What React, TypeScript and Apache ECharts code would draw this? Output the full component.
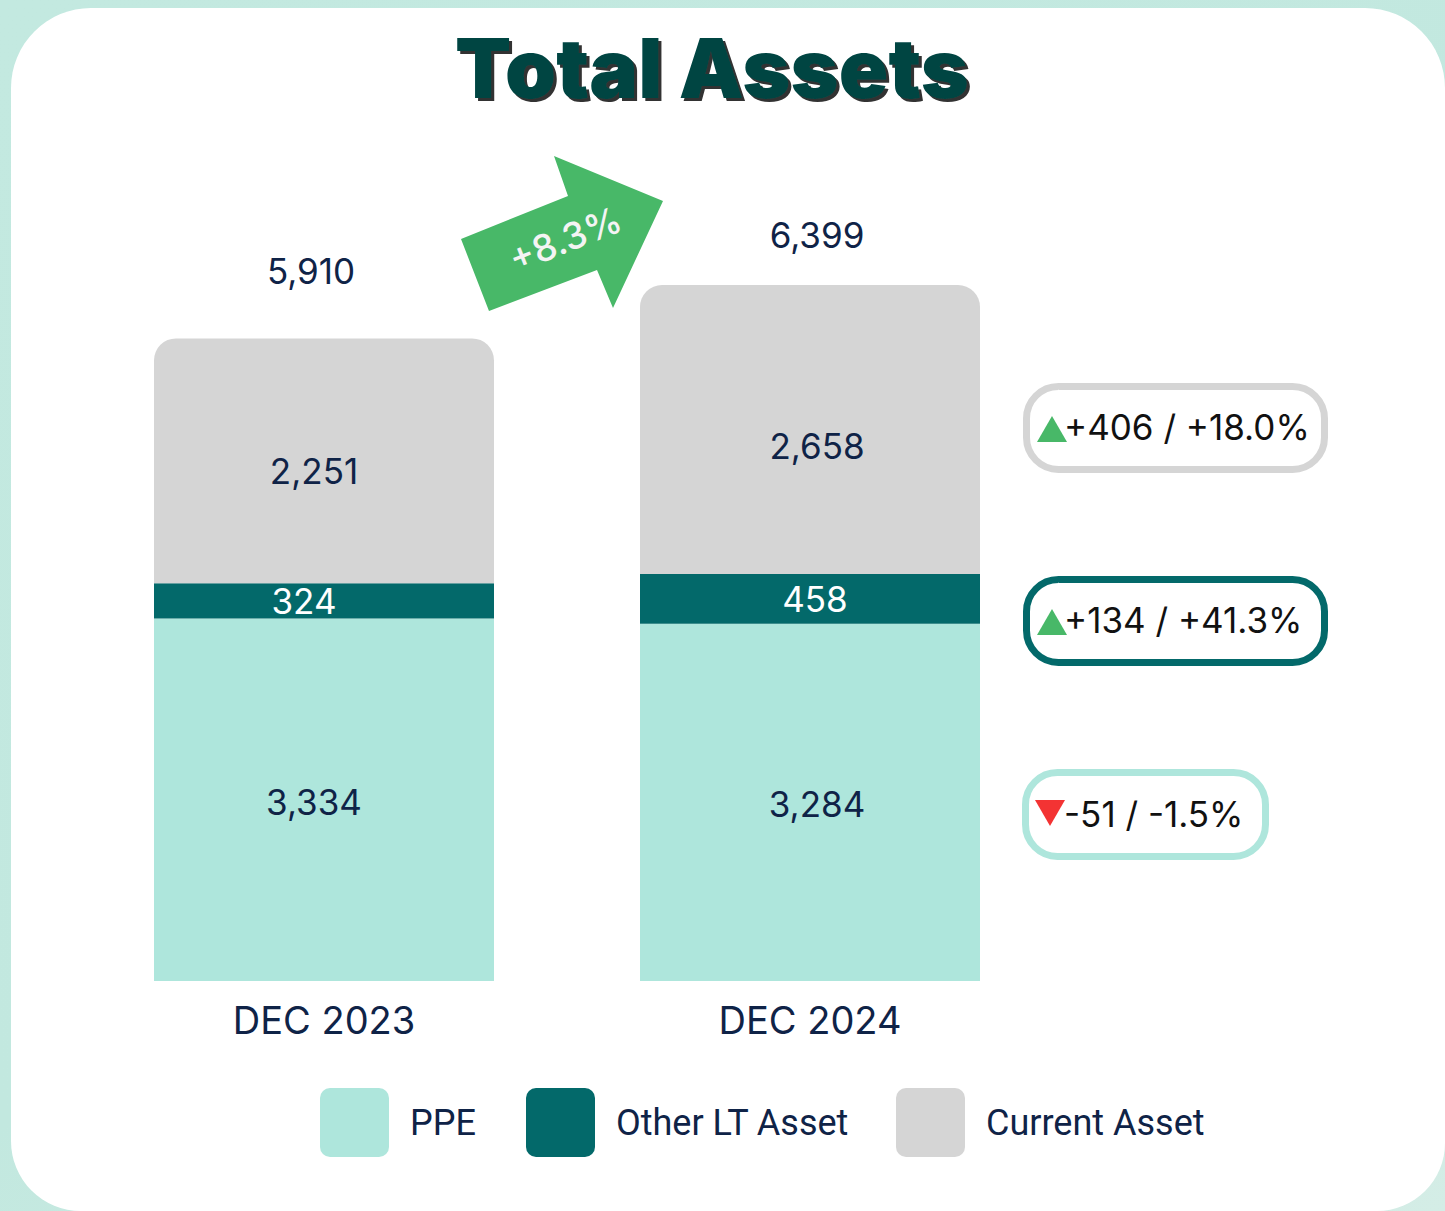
import React, { useEffect, useRef } from "react";
import * as echarts from "echarts";

const categories = ["DEC 2023", "DEC 2024"];
const ppe = [3334, 3284];
const otherLT = [324, 458];
const currentAsset = [2251, 2658];
const totals = [5910, 6399];
const growthLabel = "+8.3%";
const deltaTexts = ["+406 / +18.0%", "+134 / +41.3%", "-51 / -1.5%"];
const deltaUp = [true, true, false];

const FONT = "Inter";
const LEG_FONT = "Roboto";
const NAVY = "#0f2347";
const C_PPE = "#aee6dc";
const C_OTHER = "#03696a";
const C_CUR = "#d5d5d5";
const GREEN = "#48b868";
const RED = "#f33333";

const fmt = (v: number) => v.toLocaleString("en-US");

const LEGEND_ICON =
  "path://M10,0 H59 A10,10 0 0 1 69,10 V59 A10,10 0 0 1 59,69 H10 A10,10 0 0 1 0,59 V10 A10,10 0 0 1 10,0 Z";

export default function App() {
  const ref = useRef<HTMLDivElement>(null);
  useEffect(() => {
    if (!ref.current) return;
    const chart = echarts.init(ref.current, undefined, { renderer: "svg" });

    const boxes = [
      { x: 1026.5, y: 386.5, w: 298, h: 83, stroke: C_CUR, ty: 427, tri: [1037, 442, 1067, 416] },
      { x: 1026.5, y: 579.5, w: 298, h: 83, stroke: C_OTHER, ty: 620, tri: [1037, 635, 1067, 609] },
      { x: 1025.5, y: 772.5, w: 240, h: 84, stroke: C_PPE, ty: 814, tri: [1035, 800, 1065, 826] },
    ];

    const graphics: any[] = [
      {
        type: "polygon",
        shape: {
          points: [
            [461, 239],
            [568, 196],
            [554, 156],
            [663, 201],
            [613, 308],
            [597, 270],
            [489, 311],
          ],
        },
        style: { fill: GREEN },
        z: 10,
      },
      {
        type: "text",
        x: 565,
        y: 239,
        rotation: 0.38,
        style: {
          text: growthLabel,
          fill: "#f4f4f4",
          font: `500 37px ${FONT}`,
          align: "center",
          verticalAlign: "middle",
        },
        z: 11,
      },
    ];

    boxes.forEach((b, i) => {
      graphics.push({
        type: "rect",
        shape: { x: b.x, y: b.y, width: b.w, height: b.h, r: 32 },
        style: { fill: "#ffffff", stroke: b.stroke, lineWidth: 7 },
        z: 10,
      });
      const [x1, yb, x2, yt] = b.tri;
      graphics.push({
        type: "polygon",
        shape: {
          points: [
            [x1, yb],
            [(x1 + x2) / 2, yt],
            [x2, yb],
          ],
        },
        style: { fill: deltaUp[i] ? GREEN : RED },
        z: 11,
      });
      graphics.push({
        type: "text",
        x: 1064,
        y: b.ty,
        style: {
          text: deltaTexts[i],
          fill: "#111111",
          font: `400 35px ${FONT}`,
          align: "left",
          verticalAlign: "middle",
        },
        z: 11,
      });
    });

    const labelBase = {
      show: true,
      fontFamily: FONT,
      fontSize: 35,
      color: NAVY,
    };
    const xOff = [-10, 7];

    const legendNames = ["PPE", "Other LT Asset", "Current Asset"];
    const legendLefts = [320, 526, 896];

    chart.setOption({
      animation: false,
      backgroundColor: "transparent",
      title: {
        text: "Total Assets",
        left: 455,
        top: 27,
        padding: 0,
        textStyle: {
          fontFamily: "Inter",
          fontWeight: 900,
          fontSize: 82,
          color: "#024543",
          textShadowColor: "#333333",
          textShadowOffsetX: 3,
          textShadowOffsetY: 3,
          textShadowBlur: 1,
        },
      },
      legend: legendNames.map((n, i) => ({
        data: [n],
        left: legendLefts[i],
        top: 1088,
        padding: 0,
        itemWidth: 69,
        itemHeight: 69,
        icon: LEGEND_ICON,
        selectedMode: false,
        textStyle: {
          fontFamily: LEG_FONT,
          fontSize: 36,
          color: NAVY,
          padding: [0, 0, 0, 16],
        },
      })),
      grid: { left: 81, right: 392, top: 111, bottom: 230, containLabel: false },
      xAxis: {
        type: "category",
        data: categories,
        axisLine: { show: false },
        axisTick: { show: false },
        axisLabel: {
          fontFamily: FONT,
          fontSize: 38,
          color: NAVY,
          margin: 20,
        },
      },
      yAxis: {
        type: "value",
        min: 0,
        max: 8000,
        show: false,
        splitLine: { show: false },
      },
      graphic: graphics,
      series: [
        {
          name: "PPE",
          type: "bar",
          stack: "a",
          barWidth: 340,
          itemStyle: { color: C_PPE },
          data: ppe.map((v, i) => ({ value: v, label: { offset: [xOff[i], 2] } })),
          label: { ...labelBase, position: "inside", formatter: (p: any) => fmt(p.value) },
        },
        {
          name: "Other LT Asset",
          type: "bar",
          stack: "a",
          itemStyle: { color: C_OTHER },
          data: otherLT.map((v, i) => ({ value: v, label: { offset: [i === 0 ? -20 : 5, 0] } })),
          label: { ...labelBase, color: "#ffffff", position: "inside", formatter: (p: any) => fmt(p.value) },
        },
        {
          name: "Current Asset",
          type: "bar",
          stack: "a",
          itemStyle: { color: C_CUR, borderRadius: [22, 22, 0, 0] },
          data: currentAsset.map((v, i) => ({
            value: v,
            label: { offset: [xOff[i], i === 0 ? 10 : 16] },
          })),
          label: { ...labelBase, position: "inside", formatter: (p: any) => fmt(p.value) },
        },
        {
          name: "Total",
          type: "bar",
          stack: "a",
          itemStyle: { color: "transparent" },
          data: totals.map((t, i) => ({
            value: 0,
            label: { distance: i === 0 ? 50 : 33, offset: [i === 0 ? -13 : 7, 0], formatter: fmt(t) },
          })),
          label: { ...labelBase, position: "top" },
          silent: true,
        },
      ],
    });
    return () => chart.dispose();
  }, []);

  return (
    <div
      style={{
        position: "absolute",
        left: 0,
        top: 0,
        width: 1445,
        height: 1211,
        overflow: "hidden",
        background: "linear-gradient(150deg, #c3e9e0 0%, #c2e8df 55%, #d4ede6 100%)",
      }}
    >
      <div
        style={{
          position: "absolute",
          left: 11,
          top: 8,
          width: 1434,
          height: 1203,
          background: "#ffffff",
          borderRadius: "80px 80px 68px 70px",
        }}
      />
      <div ref={ref} style={{ position: "absolute", left: 0, top: 0, width: 1445, height: 1211 }} />
    </div>
  );
}
